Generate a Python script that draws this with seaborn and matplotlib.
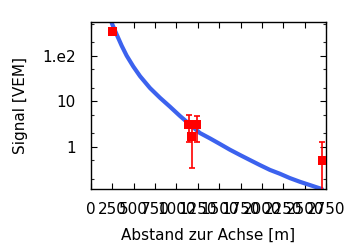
import matplotlib
matplotlib.use("Agg")
import matplotlib.pyplot as plt
import matplotlib.ticker as mticker
import numpy as np
import pandas as pd
import seaborn as sns

# LDF curve
curve_r = [245, 304, 362, 420, 497, 576, 692, 809, 925, 1042, 1276, 1392, 1509, 1626,
           1743, 1860, 1976, 2093, 2210, 2326, 2443, 2560, 2676, 2700]
curve_s = [524, 290, 165, 100, 58, 35.5, 19.5, 11.9, 7.6, 4.75, 2.0, 1.53, 1.15, 0.86,
           0.66, 0.510, 0.396, 0.310, 0.255, 0.205, 0.170, 0.144, 0.122, 0.118]

# Station data
stat_r = [250, 1143, 1178, 1236, 2706]
stat_s = [345, 3.1, 1.69, 3.1, 0.50]
stat_lo = [345, 1.25, 0.335, 1.25, 0.05]
stat_hi = [345, 5.1, 3.0, 4.8, 1.25]

xticks = [0, 250, 500, 750, 1000, 1250, 1500, 1750, 2000, 2250, 2500, 2750]
yticks = [1, 10, 100]
ytick_labels = ["1", "10", "1.e2"]

sns.set_theme(style="ticks")
plt.rcParams["font.family"] = ["DejaVu Sans"]
plt.rcParams["text.color"] = "black"
plt.rcParams["axes.labelcolor"] = "black"

fig = plt.figure(figsize=(3.6, 2.5), dpi=100)
ax = fig.add_axes([0.252, 0.244, 0.654, 0.668])

curve = pd.DataFrame({"r": curve_r, "s": curve_s})
stations = pd.DataFrame({"r": stat_r, "s": stat_s})

sns.lineplot(data=curve, x="r", y="s", ax=ax, color="#3c62ee", linewidth=3.0, zorder=2)

yerr = np.array([np.array(stat_s) - np.array(stat_lo), np.array(stat_hi) - np.array(stat_s)])
ax.errorbar(stat_r, stat_s, yerr=yerr, fmt="none", ecolor="#ff0000", elinewidth=1.2,
            capsize=2, capthick=1.2, zorder=3)
sns.scatterplot(data=stations, x="r", y="s", ax=ax, marker="s", s=42, color="#ff0000",
                edgecolor="none", linewidth=0, zorder=4)

ax.set_yscale("log")
ax.set_xlim(0, 2750)
ax.set_ylim(0.118, 550)

ax.xaxis.set_major_locator(mticker.FixedLocator(xticks))
ax.xaxis.set_major_formatter(mticker.FixedFormatter([str(v) for v in xticks]))
ax.yaxis.set_major_locator(mticker.FixedLocator(yticks))
ax.yaxis.set_major_formatter(mticker.FixedFormatter(ytick_labels))
ax.yaxis.set_minor_locator(mticker.LogLocator(base=10, subs=(2.0, 5.0)))
ax.yaxis.set_minor_formatter(mticker.NullFormatter())

ax.tick_params(axis="both", which="major", direction="in", length=4, width=0.8,
               top=True, right=True, labelsize=11, colors="black")
ax.tick_params(axis="both", which="minor", direction="in", length=2.5, width=0.8,
               top=True, right=True)
ax.tick_params(axis="x", which="major", pad=9)
ax.tick_params(axis="y", which="major", pad=11)
for sp in ax.spines.values():
    sp.set_visible(True)
    sp.set_color("black")
    sp.set_linewidth(1.0)

ax.set_xlabel("Abstand zur Achse [m]", fontsize=11, labelpad=8)
ax.set_ylabel("Signal [VEM]", fontsize=11, labelpad=10)

fig.savefig("out.png", dpi=100)
